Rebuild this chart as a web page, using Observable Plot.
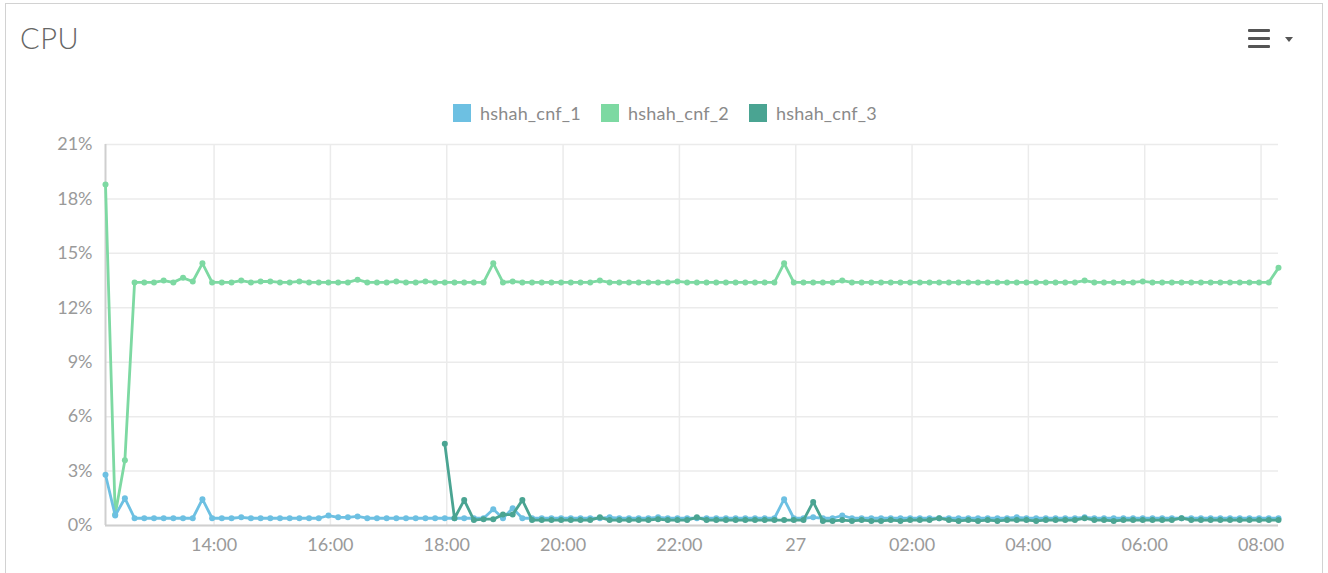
<!DOCTYPE html>
<html><head><meta charset="utf-8">
<script src="https://cdn.jsdelivr.net/npm/d3@7"></script>
<script src="https://cdn.jsdelivr.net/npm/@observablehq/plot@0.6"></script>
<style>
body{margin:0;background:#fff;font-family:Lato,"Open Sans",sans-serif;}
#wrap{position:relative;width:1328px;height:573px;overflow:hidden;background:#fff;}
#card{position:absolute;left:5px;top:3px;width:1318px;height:620px;border:1.5px solid #d2d2d2;box-sizing:border-box;}
#title{position:absolute;left:20px;top:20px;font-size:29px;font-weight:300;color:#666;letter-spacing:0.6px;}
.bar{position:absolute;left:1248px;width:22px;height:3px;background:#555;border-radius:1px;}
#caret{position:absolute;left:1285px;top:37px;width:0;height:0;border-left:4.5px solid transparent;border-right:4.5px solid transparent;border-top:5px solid #555;}
.leg{position:absolute;top:102px;display:flex;align-items:center;font-size:18px;color:#8a8a8a;white-space:nowrap;letter-spacing:0.2px;}
.sw{width:18px;height:18px;margin-right:9px;}
#chart{position:absolute;left:0;top:130px;}
</style>
</head><body>
<div id="wrap">
  <div id="card"></div>
  <div id="title">CPU</div>
  <div class="bar" style="top:29px"></div>
  <div class="bar" style="top:37px"></div>
  <div class="bar" style="top:45px"></div>
  <div id="caret"></div>
  <div id="legend"></div>
  <div id="chart"></div>
</div>
<script>
const seriesNames = ["hshah_cnf_1", "hshah_cnf_2", "hshah_cnf_3"];
const seriesColors = ["#6dc0e2", "#7dd9a2", "#4aa492"];
const legendLeft = [453, 601, 749];

const startTime = Date.UTC(2020, 1, 26, 12, 8);
const stepMinutes = 10;

const cnf1 = [
  2.8, 0.55, 1.5, 0.4, 0.4, 0.4, 0.4, 0.4, 0.4, 0.4,
  1.45, 0.4, 0.4, 0.4, 0.45, 0.4, 0.4, 0.4, 0.4, 0.4,
  0.4, 0.4, 0.4, 0.55, 0.45, 0.45, 0.5, 0.4, 0.4, 0.4,
  0.4, 0.4, 0.4, 0.4, 0.4, 0.4, 0.4, 0.4, 0.4, 0.4,
  0.9, 0.4, 0.95, 0.4, 0.4, 0.4, 0.4, 0.4, 0.4, 0.4,
  0.4, 0.4, 0.45, 0.4, 0.4, 0.4, 0.4, 0.45, 0.4, 0.4,
  0.4, 0.4, 0.4, 0.4, 0.4, 0.4, 0.4, 0.4, 0.4, 0.4,
  1.45, 0.4, 0.4, 0.45, 0.4, 0.4, 0.55, 0.4, 0.4, 0.4,
  0.4, 0.4, 0.4, 0.4, 0.4, 0.4, 0.4, 0.4, 0.4, 0.4,
  0.4, 0.4, 0.4, 0.4, 0.45, 0.4, 0.4, 0.4, 0.4, 0.4,
  0.4, 0.45, 0.4, 0.4, 0.4, 0.4, 0.4, 0.4, 0.4, 0.4,
  0.4, 0.4, 0.4, 0.4, 0.4, 0.4, 0.4, 0.4, 0.4, 0.4,
  0.4, 0.4
];
const cnf2 = [
  18.8, 0.6, 3.6, 13.4, 13.4, 13.4, 13.5, 13.4, 13.65, 13.45,
  14.45, 13.4, 13.4, 13.4, 13.5, 13.4, 13.45, 13.45, 13.4, 13.4,
  13.45, 13.4, 13.4, 13.4, 13.4, 13.4, 13.55, 13.4, 13.4, 13.4,
  13.45, 13.4, 13.4, 13.45, 13.4, 13.4, 13.4, 13.4, 13.4, 13.4,
  14.45, 13.4, 13.45, 13.4, 13.4, 13.4, 13.4, 13.4, 13.4, 13.4,
  13.4, 13.5, 13.4, 13.4, 13.4, 13.4, 13.4, 13.4, 13.4, 13.45,
  13.4, 13.4, 13.4, 13.4, 13.4, 13.4, 13.4, 13.4, 13.4, 13.4,
  14.45, 13.4, 13.4, 13.4, 13.4, 13.4, 13.5, 13.4, 13.4, 13.4,
  13.4, 13.4, 13.4, 13.4, 13.4, 13.4, 13.4, 13.4, 13.4, 13.4,
  13.4, 13.4, 13.4, 13.4, 13.4, 13.4, 13.4, 13.4, 13.4, 13.4,
  13.4, 13.5, 13.4, 13.4, 13.4, 13.4, 13.4, 13.45, 13.4, 13.4,
  13.4, 13.4, 13.4, 13.4, 13.4, 13.4, 13.4, 13.4, 13.4, 13.4,
  13.4, 14.2
];
const cnf3 = [
  null, null, null, null, null, null, null, null, null, null,
  null, null, null, null, null, null, null, null, null, null,
  null, null, null, null, null, null, null, null, null, null,
  null, null, null, null, null, 4.5, 0.4, 1.4, 0.3, 0.35,
  0.35, 0.6, 0.6, 1.4, 0.3, 0.3, 0.3, 0.3, 0.3, 0.3,
  0.3, 0.45, 0.3, 0.3, 0.3, 0.3, 0.3, 0.35, 0.3, 0.3,
  0.3, 0.45, 0.3, 0.3, 0.3, 0.3, 0.3, 0.3, 0.3, 0.3,
  0.3, 0.3, 0.3, 1.3, 0.25, 0.25, 0.3, 0.25, 0.3, 0.25,
  0.25, 0.3, 0.25, 0.3, 0.3, 0.3, 0.4, 0.3, 0.25, 0.3,
  0.25, 0.3, 0.25, 0.3, 0.3, 0.3, 0.25, 0.3, 0.3, 0.3,
  0.3, 0.4, 0.3, 0.3, 0.25, 0.3, 0.3, 0.3, 0.3, 0.3,
  0.3, 0.4, 0.3, 0.3, 0.3, 0.3, 0.3, 0.3, 0.3, 0.3,
  0.3, 0.3
];

const yTicks = [0, 3, 6, 9, 12, 15, 18, 21];
const xTickLabels = ["14:00", "16:00", "18:00", "20:00", "22:00", "27", "02:00", "04:00", "06:00", "08:00"];
const xTickTimes = [
  Date.UTC(2020, 1, 26, 14), Date.UTC(2020, 1, 26, 16), Date.UTC(2020, 1, 26, 18),
  Date.UTC(2020, 1, 26, 20), Date.UTC(2020, 1, 26, 22), Date.UTC(2020, 1, 27, 0),
  Date.UTC(2020, 1, 27, 2), Date.UTC(2020, 1, 27, 4), Date.UTC(2020, 1, 27, 6),
  Date.UTC(2020, 1, 27, 8)
].map(t => new Date(t));
const labelByTime = new Map(xTickTimes.map((t, i) => [+t, xTickLabels[i]]));

const times = cnf1.map((_, i) => new Date(startTime + i * stepMinutes * 60000));
const allSeries = [cnf1, cnf2, cnf3];
const rows = [];
allSeries.forEach((vals, s) => vals.forEach((v, i) => {
  if (v != null) rows.push({time: times[i], value: v, series: seriesNames[s]});
}));

// legend
const legend = document.getElementById("legend");
seriesNames.forEach((n, i) => {
  const d = document.createElement("div");
  d.className = "leg";
  d.style.left = legendLeft[i] + "px";
  d.innerHTML = `<div class="sw" style="background:${seriesColors[i]}"></div><span>${n}</span>`;
  legend.appendChild(d);
});

const drawOrder = ["hshah_cnf_2", "hshah_cnf_1", "hshah_cnf_3"];
const seriesMarks = drawOrder.flatMap(name => {
  const data = rows.filter(r => r.series === name);
  const c = seriesColors[seriesNames.indexOf(name)];
  return [
    Plot.line(data, {x: "time", y: "value", stroke: c, strokeWidth: 2.8}),
    Plot.dot(data, {x: "time", y: "value", fill: c, r: 3})
  ];
});

const chart = Plot.plot({
  width: 1328,
  height: 443,
  marginLeft: 105,
  marginRight: 50,
  marginTop: 14,
  marginBottom: 48,
  style: {fontFamily: "Lato, 'Open Sans', sans-serif", fontSize: "18px", color: "#9a9a9a", background: "transparent"},
  x: {type: "utc", domain: [times[0], times[times.length - 1]], ticks: xTickTimes, tickFormat: d => labelByTime.get(+d), tickSize: 0, tickPadding: 13, label: null},
  y: {domain: [0, 21], ticks: yTicks, tickFormat: d => d + "%", tickSize: 0, tickPadding: 13, label: null},
  marks: [
    Plot.ruleY(yTicks, {stroke: "#ebebeb", strokeWidth: 1.5}),
    Plot.ruleX(xTickTimes, {stroke: "#ebebeb", strokeWidth: 1.5}),
    Plot.ruleX([times[0]], {stroke: "#cfcfcf", strokeWidth: 2}),
    Plot.ruleY([0], {stroke: "#cfcfcf", strokeWidth: 2}),
    ...seriesMarks
  ]
});
document.getElementById("chart").appendChild(chart);
</script>
</body></html>
